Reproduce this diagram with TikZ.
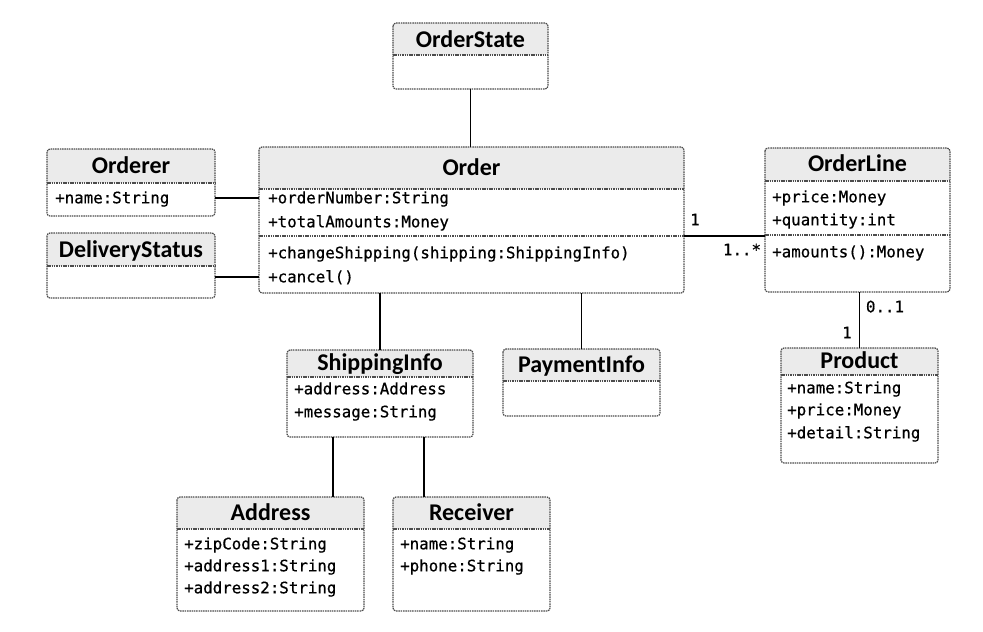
\documentclass[tikz,border=0pt]{standalone}
\usepackage{fontspec}
\newfontfamily\memberfont{DejaVu Sans Mono}[FakeBold=0.6]
\newfontfamily\titlefont{Carlito}
\usetikzlibrary{calc}

\begin{document}
\begin{tikzpicture}[x=1pt,y=-1pt,
  classbox/.style={rectangle,inner sep=0pt,outer sep=0pt},
  boxline/.style={draw=black!70,line width=1.2pt,dash pattern=on 1.5pt off 0.8pt,rounded corners=3pt},
  headfill/.style={fill=gray!16,rounded corners=3pt},
  sepline/.style={draw=black!70,line width=1.2pt,dash pattern=on 1.5pt off 0.8pt},
  classname/.style={font=\titlefont\bfseries\fontsize{24}{28}\selectfont,inner sep=0pt,text height=15.4pt,text depth=0pt},
  member/.style={font=\memberfont\fontsize{15.8}{18}\selectfont,inner sep=0pt,anchor=west,text height=10.6pt,text depth=0pt},
  mult/.style={font=\memberfont\fontsize{15.8}{18}\selectfont,inner sep=0pt,text height=10.6pt,text depth=0pt},
  assoc/.style={draw=black,line width=1.7pt}]
\useasboundingbox (0,0) rectangle (983,632);

% OrderState
\node[classbox,minimum width=155pt,minimum height=66pt] (state) at (470.5,56) {};
\fill[headfill] (state.north west) rectangle (state.east |- 0,55);
\draw[boxline] (state.north west) rectangle (state.south east);
\draw[sepline] (state.west |- 0,55) -- (state.east |- 0,55);
\node[classname] (stateName) at (470.5,40) {OrderState};

% Order
\node[classbox,minimum width=425pt,minimum height=146pt] (order) at (471.5,220) {};
\fill[headfill] (order.north west) rectangle (order.east |- 0,189);
\draw[boxline] (order.north west) rectangle (order.south east);
\draw[sepline] (order.west |- 0,189) -- (order.east |- 0,189);
\draw[sepline] (order.west |- 0,236) coordinate (orderOpsW) -- (order.east |- 0,236) coordinate (orderOpsE);
\node[classname] (orderName) at (471.5,168) {Order};
\node[member] (orderNo) at (268,198) {+orderNumber:String};
\node[member] (orderTotal) at (268,222) {+totalAmounts:Money};
\node[member] (orderShip) at (268,253) {+changeShipping(shipping:ShippingInfo)};
\node[member] (orderCancel) at (268,277) {+cancel()};

% Orderer
\node[classbox,minimum width=168pt,minimum height=67pt] (orderer) at (131,182.5) {};
\fill[headfill] (orderer.north west) rectangle (orderer.east |- 0,183);
\draw[boxline] (orderer.north west) rectangle (orderer.south east);
\draw[sepline] (orderer.west |- 0,183) -- (orderer.east |- 0,183);
\node[classname] (ordererName) at (131,166) {Orderer};
\node[member] (ordererAttr) at (55,198) {+name:String};

% DeliveryStatus
\node[classbox,minimum width=168pt,minimum height=65pt] (delivery) at (131,265.5) {};
\fill[headfill] (delivery.north west) rectangle (delivery.east |- 0,266);
\draw[boxline] (delivery.north west) rectangle (delivery.south east);
\draw[sepline] (delivery.west |- 0,266) -- (delivery.east |- 0,266);
\node[classname] (deliveryName) at (131,250) {DeliveryStatus};

% OrderLine
\node[classbox,minimum width=185pt,minimum height=144pt] (line) at (857.5,220) {};
\fill[headfill] (line.north west) rectangle (line.east |- 0,181);
\draw[boxline] (line.north west) rectangle (line.south east);
\draw[sepline] (line.west |- 0,181) -- (line.east |- 0,181);
\draw[sepline] (line.west |- 0,235) -- (line.east |- 0,235);
\node[classname] (lineName) at (857.5,164) {OrderLine};
\node[member] (linePrice) at (772,197) {+price:Money};
\node[member] (lineQty) at (772,220) {+quantity:int};
\node[member] (lineAmt) at (772,252) {+amounts():Money};

% Product
\node[classbox,minimum width=157pt,minimum height=115pt] (product) at (859.5,405.5) {};
\fill[headfill] (product.north west) rectangle (product.east |- 0,375);
\draw[boxline] (product.north west) rectangle (product.south east);
\draw[sepline] (product.west |- 0,375) -- (product.east |- 0,375);
\node[classname] (productName) at (859.5,361) {Product};
\node[member] (productNm) at (787,388) {+name:String};
\node[member] (productPrice) at (787,410) {+price:Money};
\node[member] (productDetail) at (787,433) {+detail:String};

% ShippingInfo
\node[classbox,minimum width=186pt,minimum height=87pt] (ship) at (380,393.5) {};
\fill[headfill] (ship.north west) rectangle (ship.east |- 0,377);
\draw[boxline] (ship.north west) rectangle (ship.south east);
\draw[sepline] (ship.west |- 0,377) -- (ship.east |- 0,377);
\node[classname] (shipName) at (380,363) {ShippingInfo};
\node[member] (shipAddr) at (294,389) {+address:Address};
\node[member] (shipMsg) at (294,412) {+message:String};

% PaymentInfo
\node[classbox,minimum width=157pt,minimum height=67pt] (pay) at (581.5,382.5) {};
\fill[headfill] (pay.north west) rectangle (pay.east |- 0,381);
\draw[boxline] (pay.north west) rectangle (pay.south east);
\draw[sepline] (pay.west |- 0,381) -- (pay.east |- 0,381);
\node[classname] (payName) at (581.5,365) {PaymentInfo};

% Address
\node[classbox,minimum width=187pt,minimum height=114pt] (address) at (270.5,554) {};
\fill[headfill] (address.north west) rectangle (address.east |- 0,529);
\draw[boxline] (address.north west) rectangle (address.south east);
\draw[sepline] (address.west |- 0,529) -- (address.east |- 0,529);
\node[classname] (addressName) at (270.5,513) {Address};
\node[member] (addressZip) at (184,544) {+zipCode:String};
\node[member] (addressOne) at (184,566) {+address1:String};
\node[member] (addressTwo) at (184,588) {+address2:String};

% Receiver
\node[classbox,minimum width=157pt,minimum height=114pt] (receiver) at (471.5,554) {};
\fill[headfill] (receiver.north west) rectangle (receiver.east |- 0,529);
\draw[boxline] (receiver.north west) rectangle (receiver.south east);
\draw[sepline] (receiver.west |- 0,529) -- (receiver.east |- 0,529);
\node[classname] (receiverName) at (471.5,513) {Receiver};
\node[member] (receiverNm) at (400,544) {+name:String};
\node[member] (receiverPhone) at (400,566) {+phone:String};

% associations
\draw[assoc] (state.south) -- (state.south |- order.north);
\draw[assoc] (orderer.east |- ordererAttr) -- (order.west |- ordererAttr);
\draw[assoc] (delivery.east |- orderCancel) -- (order.west |- orderCancel);
\draw[assoc] (orderOpsE) -- (line.west |- orderOpsE);
\draw[assoc] (ship.north) -- (ship.north |- order.south);
\draw[assoc] (pay.north) -- (pay.north |- order.south);
\coordinate (shipLeft) at ($(ship.south west)!0.247!(ship.south east)$);
\coordinate (shipRight) at ($(ship.south west)!0.735!(ship.south east)$);
\draw[assoc] (shipLeft) -- (shipLeft |- address.north);
\draw[assoc] (shipRight) -- (shipRight |- receiver.north);
\draw[assoc] (product.north) -- (product.north |- line.south);

% multiplicities
\node[mult] (multOrder) at (695,220) {1};
\node[mult] (multLine) at (742,250) {1..*};
\node[mult] (multLineP) at (885,307) {0..1};
\node[mult] (multProduct) at (847,333) {1};
\end{tikzpicture}
\end{document}
